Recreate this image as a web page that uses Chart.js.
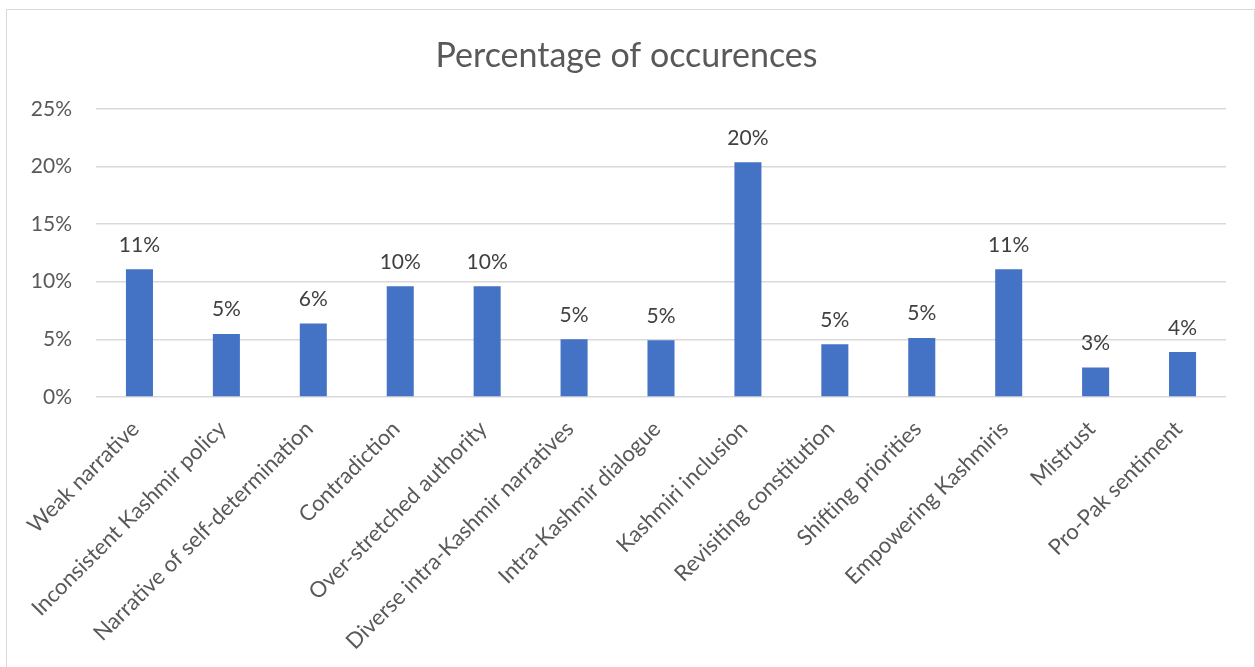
<!DOCTYPE html>
<html>
<head>
<meta charset="utf-8">
<title>Percentage of occurences</title>
<script src="https://cdn.jsdelivr.net/npm/chart.js@4.4.1/dist/chart.umd.min.js"></script>
<style>
  body { margin: 0; background: #fff; }
  #wrap { position: relative; width: 1255px; height: 667px; overflow: hidden; }
  /* light frame round the chart, open at the bottom */
  #frame { position: absolute; left: 6px; top: 9px; width: 1249px; height: 700px;
           border: 1.5px solid #d9d9d9; box-sizing: border-box; }
  #myChart { position: absolute; left: 0; top: 0; }
</style>
</head>
<body>
<div id="wrap">
  <div id="frame"></div>
  <canvas id="myChart" width="1255" height="667"></canvas>
</div>
<script>
var categories = [
  "Weak narrative",
  "Inconsistent Kashmir policy",
  "Narrative of self-determination",
  "Contradiction",
  "Over-stretched authority",
  "Diverse intra-Kashmir narratives",
  "Intra-Kashmir dialogue",
  "Kashmiri inclusion",
  "Revisiting constitution",
  "Shifting priorities",
  "Empowering Kashmiris",
  "Mistrust",
  "Pro-Pak sentiment"
];
// share of occurences, in percent
var occurences = [11.08, 5.47, 6.37, 9.61, 9.61, 5.01, 4.92, 20.37, 4.57, 5.12, 11.08, 2.55, 3.9];
var yTicks = [0, 5, 10, 15, 20, 25];

var fontName = "Lato, 'Liberation Sans', sans-serif";

// writes the rounded value over each bar
var barLabels = {
  id: "barLabels",
  afterDatasetsDraw: function(chart) {
    var ctx = chart.ctx;
    var meta = chart.getDatasetMeta(0);
    ctx.save();
    ctx.font = "21px " + fontName;
    ctx.fillStyle = "#404040";
    ctx.textAlign = "center";
    ctx.textBaseline = "alphabetic";
    meta.data.forEach(function(bar, i) {
      ctx.fillText(Math.round(occurences[i]) + "%", bar.x, bar.y - 17.5);
    });
    ctx.restore();
  }
};

const myChart = new Chart("myChart", {
  type: "bar",
  data: {
    labels: categories,
    datasets: [{
      data: occurences,
      backgroundColor: "#4472C4",
      borderWidth: 0,
      categoryPercentage: 1,
      barPercentage: 0.311
    }]
  },
  options: {
    responsive: false,
    animation: false,
    // left padding pulls the title towards the middle of the frame
    layout: { padding: { top: 0, right: 29, bottom: 0, left: 27 } },
    plugins: {
      legend: { display: false },
      tooltip: { enabled: false },
      title: {
        display: true,
        text: "Percentage of occurences",
        color: "#595959",
        font: { family: fontName, size: 34, weight: "normal" },
        padding: { top: 36, bottom: 32 }
      }
    },
    scales: {
      x: {
        grid: { display: false },
        border: { display: false },
        ticks: {
          autoSkip: false,
          maxRotation: 45,
          minRotation: 45,
          padding: 11,
          labelOffset: -4,
          color: "#595959",
          font: { family: fontName, size: 22 }
        },
        afterFit: function(s) { s.height = 270; }
      },
      y: {
        min: 0,
        max: 25,
        afterBuildTicks: function(s) {
          s.ticks = yTicks.map(function(v) { return { value: v }; });
        },
        grid: { color: "#d9d9d9", lineWidth: 1.5, drawTicks: false },
        border: { display: false },
        ticks: {
          padding: 24,
          color: "#595959",
          font: { family: fontName, size: 21 },
          callback: function(v) { return v + "%"; }
        },
        afterFit: function(s) { s.width = 69; }
      }
    }
  },
  plugins: [barLabels]
});
</script>
</body>
</html>
